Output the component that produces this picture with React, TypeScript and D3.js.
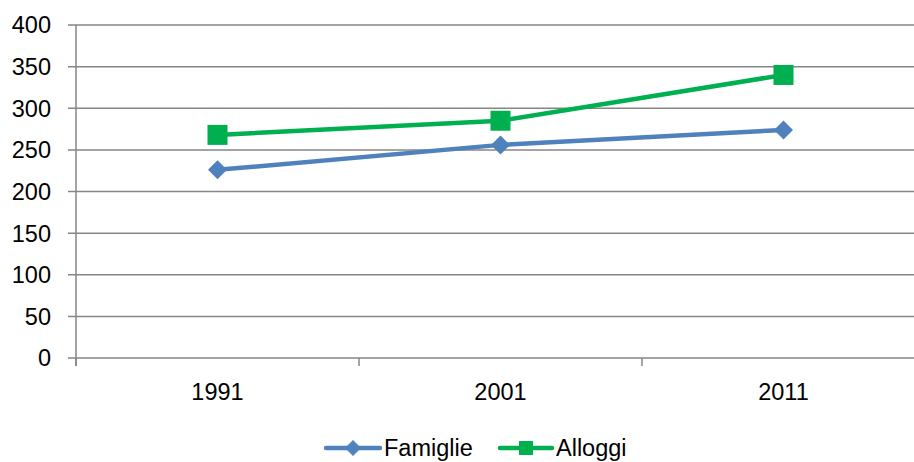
import React from "react";
import * as d3 from "d3";

const categories = ["1991", "2001", "2011"];
const famiglie = [226, 256, 274];
const alloggi = [268, 285, 340];
const yTicks = [0, 50, 100, 150, 200, 250, 300, 350, 400];

const W = 914;
const H = 462;
const FONT = "'Liberation Sans', Arial, sans-serif";
const FS = 23.5;

export default function App() {
  const x = d3.scaleBand<string>().domain(categories).range([76, 925]);
  const y = d3.scaleLinear().domain([0, 400]).range([358, 25]);
  const cx = (c: string) => (x(c) as number) + x.bandwidth() / 2;
  const line = d3
    .line<number>()
    .x((_, i) => cx(categories[i]))
    .y((d) => y(d));
  const grid = "#868686";
  const blue = "#4F81BD";
  const green = "#00B050";
  const diamond = (px: number, py: number, r: number) =>
    `M${px},${py - r}L${px + r},${py}L${px},${py + r}L${px - r},${py}Z`;
  const boundaries = [...categories.map((c) => x(c) as number), 925];

  return (
    <svg width={W} height={H} style={{ display: "block", position: "absolute", left: 0, top: 0 }}>
      <rect width={W} height={H} fill="#fff" />
      {yTicks.map((t) => (
        <g key={t}>
          <line x1={68} x2={925} y1={y(t)} y2={y(t)} stroke={grid} strokeWidth={1.5} />
          <text x={51} y={y(t)} dy="0.36em" textAnchor="end" fontFamily={FONT} fontSize={FS} fill="#000">
            {t}
          </text>
        </g>
      ))}
      <line x1={76} x2={76} y1={25} y2={366} stroke={grid} strokeWidth={1.5} />
      {boundaries.map((b, i) => (
        <line key={i} x1={b} x2={b} y1={358} y2={366} stroke={grid} strokeWidth={1.5} />
      ))}
      {categories.map((c) => (
        <text key={c} x={cx(c)} y={392} dy="0.36em" textAnchor="middle" fontFamily={FONT} fontSize={FS} fill="#000">
          {c}
        </text>
      ))}
      <path d={line(famiglie) as string} fill="none" stroke={blue} strokeWidth={4.5} strokeLinejoin="round" />
      <path d={line(alloggi) as string} fill="none" stroke={green} strokeWidth={4.5} strokeLinejoin="round" />
      {famiglie.map((v, i) => (
        <path key={i} d={diamond(cx(categories[i]), y(v), 9.5)} fill={blue} />
      ))}
      {alloggi.map((v, i) => (
        <rect key={i} x={cx(categories[i]) - 10} y={y(v) - 10} width={20} height={20} fill={green} />
      ))}
      <g>
        <line x1={326} x2={380} y1={448} y2={448} stroke={blue} strokeWidth={4.5} strokeLinecap="round" />
        <path d={diamond(353, 448, 8)} fill={blue} />
        <text x={384} y={448} dy="0.36em" fontFamily={FONT} fontSize={FS} fill="#000">Famiglie</text>
        <line x1={500} x2={552} y1={448} y2={448} stroke={green} strokeWidth={4.5} strokeLinecap="round" />
        <rect x={519} y={441} width={14} height={14} fill={green} />
        <text x={556} y={448} dy="0.36em" fontFamily={FONT} fontSize={FS} fill="#000">Alloggi</text>
      </g>
    </svg>
  );
}
